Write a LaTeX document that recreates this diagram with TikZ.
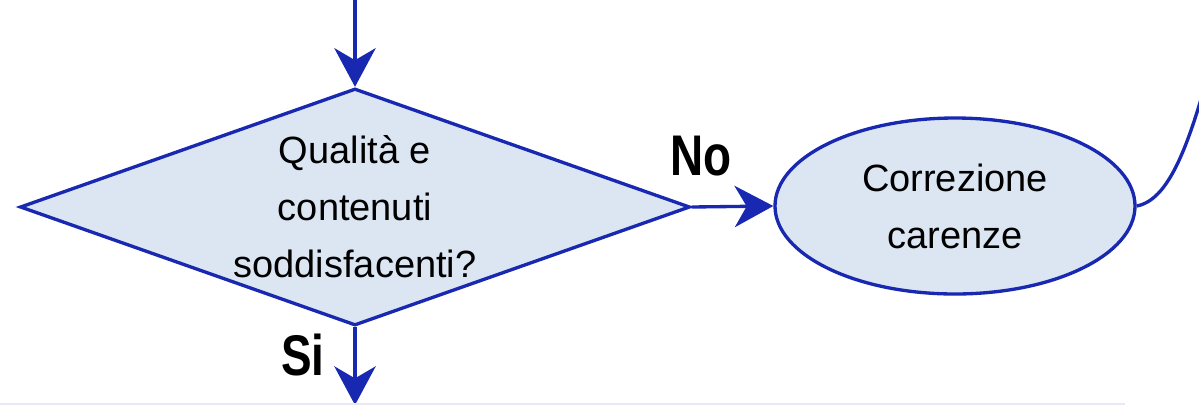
\documentclass[tikz,border=0pt]{standalone}
\usepackage{fontspec}
\setmainfont{Liberation Sans}
\newfontfamily\labelfont[FakeStretch=0.8]{Liberation Sans}
\usetikzlibrary{shapes.geometric,arrows.meta}
\definecolor{flowline}{RGB}{24,40,176}
\definecolor{flowfill}{RGB}{220,230,242}
\definecolor{edgegray}{RGB}{232,232,246}
\tikzset{
  flowbox/.style={draw=flowline, fill=flowfill, line width=2.5pt, inner sep=0pt,
    align=center, font=\fontsize{28.5pt}{42.75pt}\selectfont},
  decision/.style={flowbox, diamond, shape aspect=2.83,
    minimum width=502.5pt, minimum height=177.75pt},
  process/.style={flowbox, ellipse, minimum width=270pt, minimum height=132pt},
  flow/.style={draw=flowline, line width=2.5pt,
    -{Stealth[length=29pt, width=31pt, inset=9pt]}},
  link/.style={draw=flowline, line width=2.5pt},
  answer/.style={font=\labelfont\bfseries\fontsize{43pt}{50pt}\selectfont,
    inner sep=0pt, anchor=base},
}
\begin{document}
\begin{tikzpicture}[x=0.75pt, y=-0.75pt]
  \useasboundingbox (0,0) rectangle (1199,405);
  \clip (0,0) rectangle (1199,405);

  % shapes
  \node[decision] (check) at (355,207) {Qualità e\\contenuti\\soddisfacenti?};
  \node[process] (fix) at (955,206) {Correzione\\carenze};

  % loose ends of the connectors
  \coordinate (in) at (355,-10);
  \coordinate (out) at (355,405);
  \coordinate (back) at (1212,60);
  \coordinate (floor0) at (0,404);
  \coordinate (floor1) at (1125,404);

  % answers
  \node[answer] (no) at (701,175) {No};
  \node[answer] (yes) at (303,375) {Si};

  % connectors
  \draw[flow] (in) -- (check.north);
  \draw[flow] (check.east) -- (fix.west);
  \draw[flow] (check.south) -- (out);
  \draw[link] (fix.east) .. controls (1168,200) and (1188,150) .. (back);

  % edge of the shape below
  \draw[edgegray, line width=1.2pt] (floor0) -- (floor1);
\end{tikzpicture}
\end{document}
